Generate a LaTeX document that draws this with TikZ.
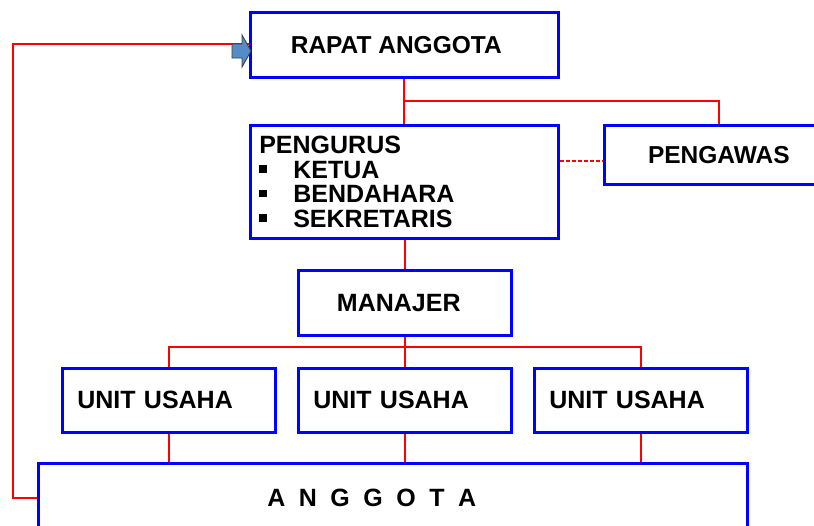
\documentclass[tikz,border=0pt]{standalone}
\usepackage{fontspec}
\setmainfont{Liberation Sans}
\usetikzlibrary{calc}
\definecolor{arrowblue}{RGB}{84,140,200}
\newcommand\pbul{\raisebox{5.5pt}{\rule{7.5pt}{7.5pt}}\hspace{26.5pt}}
\newcommand\lsp{\hspace{13.5pt}}
\begin{document}
\begin{tikzpicture}[x=1pt,y=-1pt,
  box/.style={draw=blue, line width=2.6pt, fill=white, inner sep=0pt, anchor=north west,
              font=\bfseries\fontsize{24.5}{24.5}\selectfont},
  unitbox/.style={box, minimum width=213pt, minimum height=64pt, inner xsep=15pt,
              text width=183pt, align=left, font=\bfseries\fontsize{25}{25}\selectfont},
  link/.style={red, line width=2.2pt},
  dlink/.style={red, line width=2pt, dash pattern=on 4pt off 2pt}]
\clip (0,0) rectangle (814,525);
\fill[white] (0,0) rectangle (814,525);

\coordinate (corner) at (13,44);

\node[box, minimum width=308pt, minimum height=65pt] (rapat) at (249,11) {\hspace*{-16pt}RAPAT ANGGOTA};
\node[box, minimum width=308pt, minimum height=113pt, inner xsep=9pt, text width=290pt, align=left,
      font=\bfseries\fontsize{25}{24.5}\selectfont] (pengurus) at (249,124)
      {PENGURUS\\ \pbul KETUA\\ \pbul BENDAHARA\\ \pbul SEKRETARIS};
\node[box, minimum width=229pt, minimum height=59pt] (pengawas) at (603,124) {PENGAWAS};
\node[box, minimum width=213pt, minimum height=65pt, font=\bfseries\fontsize{25}{25}\selectfont] (manajer) at (297,269) {\hspace*{-12pt}MANAJER};
\node[unitbox] (u1) at (61,367) {UNIT USAHA};
\node[unitbox] (u2) at (297,367) {UNIT USAHA};
\node[unitbox] (u3) at (533,367) {UNIT USAHA};
\node[box, minimum width=709pt, minimum height=70pt, font=\bfseries\fontsize{25}{25}\selectfont] (anggota) at (37,462)
      {\hspace*{-42pt}A\lsp N\lsp G\lsp G\lsp O\lsp T\lsp A};

% connectors
\draw[link] (rapat.south) -- (pengurus.north);
\draw[link] (pengurus.north |- 0,101) -| (pengawas.north);
\draw[dlink] (pengurus.east |- pengawas.west) ++(0,6) coordinate (dl) -- ($(pengawas.west)+(0,6)$);
\draw[link] (pengurus.south -| manajer.north) -- (manajer.north);
\draw[link] (manajer.south) -- (u2.north);
\draw[link] (u1.north) |- (u3.north |- 0,347) -- (u3.north);
\draw[link] (u1.south) -- (u1.south |- anggota.north);
\draw[link] (u2.south) -- (u2.south |- anggota.north);
\draw[link] (u3.south) -- (u3.south |- anggota.north);
\draw[link] (anggota.west) -| (corner) -- (corner -| rapat.west);

% block arrow
\draw[fill=arrowblue, draw=black!75, line width=0.9pt, line join=miter]
  (232,44) -- (242,44) -- (242,35) -- (251,51) -- (242,67) -- (242,58) -- (232,58) -- cycle;
\end{tikzpicture}
\end{document}
